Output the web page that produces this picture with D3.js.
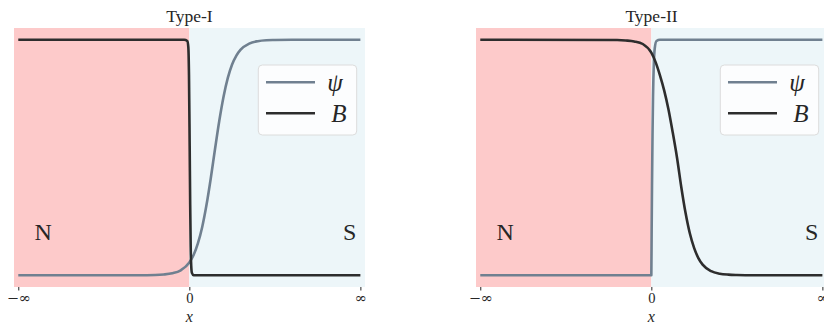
<!DOCTYPE html>
<html>
<head>
<meta charset="utf-8">
<script src="https://cdn.jsdelivr.net/npm/d3@7/dist/d3.min.js"></script>
<style>
  html, body { margin: 0; padding: 0; background: #ffffff; }
  svg { display: block; }
  text { font-family: "Liberation Serif", "DejaVu Serif", serif; fill: #262626; }
</style>
</head>
<body>
<svg id="chart" width="824" height="324"></svg>
<script>
// Panel titles and region labels
const titles = ["Type-I", "Type-II"];
const regionLabels = ["N", "S"];
const tickValues = [-10, 0, 10];
const tickLabels = ["\u2212\u221E", "0", "\u221E"];
const seriesNames = ["\u03C8", "B"];

// Type-I: order parameter heals slowly, field is expelled almost at once
const typeIPsiX = [-10, -5, -3, -2, -1.5, -1, -0.5, 0, 0.25, 0.5, 0.75, 1, 1.25, 1.5, 1.75, 2, 2.25, 2.5, 2.75, 3, 3.5, 4, 4.5, 5, 6, 10];
const typeIPsiY = [0, 0, 0.0001, 0.001, 0.003, 0.008, 0.021, 0.054, 0.086, 0.135, 0.204, 0.297, 0.41, 0.535, 0.655, 0.758, 0.838, 0.895, 0.933, 0.958, 0.984, 0.994, 0.998, 0.999, 1, 1];
const typeIBX = [-10, -1, -0.3, -0.12, -0.06, -0.02, 0.02, 0.05, 0.08, 0.11, 0.15, 0.25, 0.5, 10];
const typeIBY = [1, 1, 1, 0.995, 0.97, 0.85, 0.55, 0.3, 0.12, 0.04, 0.01, 0, 0, 0];

// Type-II: order parameter rises sharply, field penetrates into S
const typeIIPsiX = [-10, -0.5, -0.05, 0, 0.02, 0.04, 0.07, 0.1, 0.15, 0.2, 0.3, 0.5, 10];
const typeIIPsiY = [0, 0, 0, 0, 0.2, 0.38, 0.6, 0.76, 0.905, 0.964, 0.995, 1, 1];
const typeIIBX = [-10, -2, -1.5, -1, -0.5, 0, 0.25, 0.5, 0.75, 1, 1.25, 1.5, 1.75, 2, 2.25, 2.5, 2.75, 3, 3.5, 4, 4.5, 5, 6, 10];
const typeIIBY = [1, 0.999, 0.997, 0.993, 0.982, 0.945, 0.905, 0.85, 0.785, 0.705, 0.607, 0.5, 0.375, 0.265, 0.178, 0.116, 0.073, 0.045, 0.017, 0.0065, 0.0025, 0.001, 0, 0];

const colors = { psi: "#708090", B: "#2d2d2d", normal: "#fdcaca", superc: "#edf6f9" };

const panels = [
  { title: titles[0], left: 14, psi: [typeIPsiX, typeIPsiY], B: [typeIBX, typeIBY] },
  { title: titles[1], left: 476, psi: [typeIIPsiX, typeIIPsiY], B: [typeIIBX, typeIIBY] }
];

const svg = d3.select("#chart");
const axW = 351, axTop = 28, axBottom = 287;

const y = d3.scaleLinear().domain([-0.05, 1.05]).range([axBottom, axTop]);

panels.forEach((p) => {
  const x = d3.scaleLinear().domain([-10.25, 10.27]).range([p.left, p.left + axW]);
  const g = svg.append("g");

  // N and S backgrounds
  g.append("rect")
    .attr("x", x(-10.25)).attr("y", axTop)
    .attr("width", x(0) - x(-10.25)).attr("height", axBottom - axTop)
    .attr("fill", colors.normal);
  g.append("rect")
    .attr("x", x(0)).attr("y", axTop)
    .attr("width", x(10.27) - x(0)).attr("height", axBottom - axTop)
    .attr("fill", colors.superc);

  // bottom axis with infinity labels
  const axis = d3.axisBottom(x)
    .tickValues(tickValues)
    .tickFormat((d, i) => tickLabels[i])
    .tickSize(3.5)
    .tickPadding(2);
  const ax = g.append("g").attr("transform", `translate(0,${axBottom})`).call(axis);
  ax.select(".domain").remove();
  ax.selectAll(".tick line").attr("stroke", "#262626").attr("stroke-width", 1);
  ax.selectAll(".tick text")
    .attr("fill", "#262626")
    .style("font-family", (d) => d === 0 ? "'Liberation Serif', serif" : "'DejaVu Serif', serif")
    .style("font-size", "14.5px");

  // axis label
  g.append("text")
    .attr("x", x(0)).attr("y", 322)
    .attr("text-anchor", "middle")
    .style("font-size", "16px")
    .attr("font-style", "italic")
    .text("x");

  // title
  g.append("text")
    .attr("x", (x(-10.25) + x(10.27)) / 2).attr("y", 21.5)
    .attr("text-anchor", "middle")
    .style("font-size", "17.5px")
    .text(p.title);

  // region labels
  g.append("text")
    .attr("x", x(-8.55)).attr("y", y(0.15))
    .attr("text-anchor", "middle")
    .style("font-size", "24px")
    .text(regionLabels[0]);
  g.append("text")
    .attr("x", x(9.38)).attr("y", y(0.15))
    .attr("text-anchor", "middle")
    .style("font-size", "24px")
    .text(regionLabels[1]);

  const line = d3.line()
    .x((d) => x(d[0]))
    .y((d) => y(d[1]))
    .curve(d3.curveMonotoneX);

  const psiPts = p.psi[0].map((v, i) => [v, p.psi[1][i]]);
  const bPts = p.B[0].map((v, i) => [v, p.B[1][i]]);

  g.append("path").datum(psiPts)
    .attr("d", line).attr("fill", "none")
    .attr("stroke", colors.psi).attr("stroke-width", 2.6)
    .attr("stroke-linejoin", "round").attr("stroke-linecap", "butt");
  g.append("path").datum(bPts)
    .attr("d", line).attr("fill", "none")
    .attr("stroke", colors.B).attr("stroke-width", 2.6)
    .attr("stroke-linejoin", "round").attr("stroke-linecap", "butt");

  // legend
  const lg = g.append("g").attr("transform", `translate(${p.left + 244.3},65)`);
  lg.append("rect")
    .attr("width", 98.4).attr("height", 70).attr("rx", 4)
    .attr("fill", "#ffffff").attr("fill-opacity", 0.8)
    .attr("stroke", "#dcdcdc").attr("stroke-width", 1);
  const items = [
    { name: seriesNames[0], color: colors.psi, yy: 17.3, dx: 69 },
    { name: seriesNames[1], color: colors.B, yy: 48.3, dx: 73 }
  ];
  items.forEach((it) => {
    lg.append("line")
      .attr("x1", 7.7).attr("x2", 56.7)
      .attr("y1", it.yy).attr("y2", it.yy)
      .attr("stroke", it.color).attr("stroke-width", 2.6);
    lg.append("text")
      .attr("x", it.dx).attr("y", it.yy + 9)
      .style("font-size", "25px")
      .attr("font-style", "italic")
      .text(it.name);
  });
});
</script>
</body>
</html>
